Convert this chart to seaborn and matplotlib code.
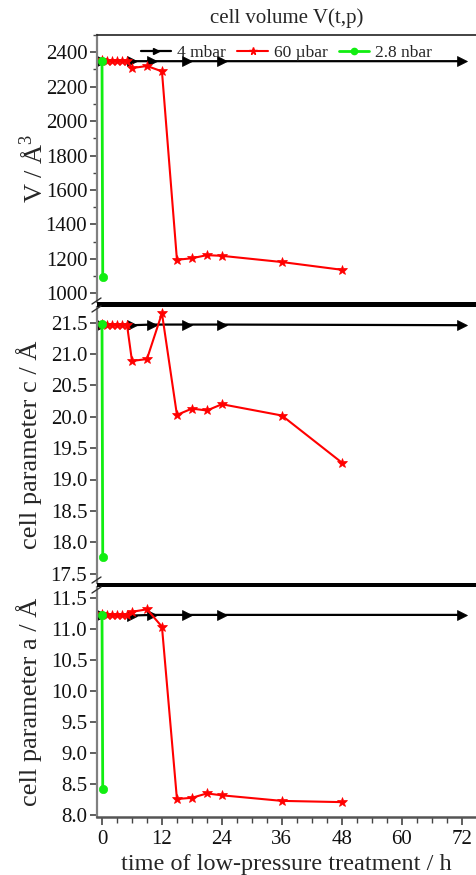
import numpy as np
import pandas as pd
import matplotlib
matplotlib.use("Agg")
import matplotlib.pyplot as plt
import seaborn as sns
from matplotlib.patches import Rectangle
from matplotlib.lines import Line2D
from matplotlib.ticker import MultipleLocator, FormatStrFormatter

# ---- data ----
t_4mbar = [0, 6, 10, 17, 24, 72]
V_4mbar = [2350, 2348, 2348, 2348, 2348, 2348]
c_4mbar = [21.47, 21.46, 21.47, 21.47, 21.47, 21.46]
a_4mbar = [11.23, 11.22, 11.23, 11.23, 11.23, 11.23]

t_60ubar = [0, 1, 2, 3, 4, 5, 6, 9, 12, 15, 18, 21, 24, 36, 48]
V_60ubar = [2352, 2350, 2349, 2350, 2348, 2347, 2308, 2320, 2289, 1195, 1204, 1222, 1218, 1182, 1137]
c_60ubar = [21.48, 21.47, 21.46, 21.47, 21.46, 21.47, 20.89, 20.92, 21.65, 20.03, 20.13, 20.10, 20.20, 20.02, 19.27]
a_60ubar = [11.24, 11.23, 11.23, 11.23, 11.23, 11.23, 11.28, 11.32, 11.04, 8.26, 8.28, 8.35, 8.32, 8.23, 8.21]

t_28nbar = [0, 0.15]
V_28nbar = [2350, 1098]
c_28nbar = [21.48, 17.77]
a_28nbar = [11.23, 8.42]

series_labels = ["4 mbar", "60 \u00b5bar", "2.8 nbar"]
x_ticks = [0, 12, 24, 36, 48, 60, 72]

# ---- style ----
sns.set_theme(style="ticks")
plt.rcParams["font.family"] = ["Liberation Serif", "DejaVu Serif"]
plt.rcParams["mathtext.fontset"] = "custom"
plt.rcParams["mathtext.rm"] = "Liberation Serif"

W, H = 476, 875
fig = plt.figure(figsize=(W / 100, H / 100), dpi=100)

def fx(px):
    return px / W

def fy(py):
    return 1 - py / H

left = 97
panels = [(35, 302), (307, 583), (587, 817)]
axes = []
for top, bot in panels:
    ax = fig.add_axes([fx(left), fy(bot), fx(W - left), (bot - top) / H])
    axes.append(ax)
ax1, ax2, ax3 = axes

colors = {"4 mbar": "black", "60 \u00b5bar": "#ff0000", "2.8 nbar": "#11ee11"}
styles = [
    dict(marker=">", ms=6.5, lw=1.6),
    dict(marker="*", ms=7, lw=1.5),
    dict(marker="o", ms=6, lw=2.0),
]

data_sets = [
    (ax1, [V_4mbar, V_60ubar, V_28nbar]),
    (ax2, [c_4mbar, c_60ubar, c_28nbar]),
    (ax3, [a_4mbar, a_60ubar, a_28nbar]),
]
times = [t_4mbar, t_60ubar, t_28nbar]

for ax, ys in data_sets:
    for lab, t, y, st in zip(series_labels, times, ys, styles):
        sns.lineplot(x=t, y=y, ax=ax, color=colors[lab], marker=st["marker"],
                     markersize=st["ms"], linewidth=st["lw"], markeredgewidth=0.5,
                     markeredgecolor=colors[lab], sort=False, estimator=None,
                     label=lab, legend=False)

tick_color = "#444444"
spine_color = "#808080"
for ax in axes:
    ax.set_xlim(-1, 74.86)
    for s in ["right", "top", "bottom"]:
        ax.spines[s].set_visible(False)
    ax.spines["left"].set_color(spine_color)
    ax.spines["left"].set_linewidth(1.6)
    ax.tick_params(axis="y", direction="out", length=5, width=1.2, color=tick_color,
                   labelsize=15, pad=2, labelcolor="#111111")
    ax.tick_params(axis="y", which="minor", direction="out", length=3, width=1.0, color=tick_color)
    ax.set_xticks([])

ylab_size = 19

# panel 1
ax1.set_ylim(950, 2500)
ax1.set_yticks(np.arange(1000, 2401, 200))
ax1.yaxis.set_minor_locator(MultipleLocator(100))
ax1.spines["top"].set_visible(True)
ax1.spines["top"].set_color("#222222")
ax1.spines["top"].set_linewidth(1.2)
ax1.set_ylabel("V / \u00c5$^3$", fontsize=ylab_size)
ax1.yaxis.set_label_coords(-0.13, 0.5)
ax1.set_title("cell volume V(t,p)", fontsize=15, pad=9)

# panel 2
ax2.set_ylim(17.35, 21.75)
ax2.set_yticks(np.arange(17.5, 21.51, 0.5))
ax2.yaxis.set_major_formatter(FormatStrFormatter("%.1f"))
ax2.set_ylabel("cell parameter c / \u00c5", fontsize=ylab_size)
ax2.yaxis.set_label_coords(-0.145, 0.5)

# panel 3
ax3.set_ylim(7.97, 11.68)
ax3.set_yticks(np.arange(8.0, 11.51, 0.5))
ax3.yaxis.set_major_formatter(FormatStrFormatter("%.1f"))
ax3.set_ylabel("cell parameter a / \u00c5", fontsize=ylab_size)
ax3.yaxis.set_label_coords(-0.145, 0.5)
ax3.spines["bottom"].set_visible(True)
ax3.spines["bottom"].set_color("#555555")
ax3.spines["bottom"].set_linewidth(1.8)
ax3.set_xticks(x_ticks)
ax3.xaxis.set_minor_locator(MultipleLocator(3))
ax3.tick_params(axis="x", direction="out", length=6, width=1.2, color=tick_color,
                labelsize=15, pad=3, labelcolor="#111111")
ax3.tick_params(axis="x", which="minor", direction="out", length=4, width=1.0, color=tick_color)
ax3.set_xlabel("time of low-pressure treatment / h", fontsize=17.5, labelpad=4)

# legend
handles = [Line2D([0], [0], color=colors[l], marker=s["marker"], markersize=s["ms"] - 1.5,
                  lw=s["lw"]) for l, s in zip(series_labels, styles)]
ax1.legend(handles, series_labels, loc="upper center", bbox_to_anchor=(0.5, 1.0),
           ncol=3, frameon=False, fontsize=12.5, handlelength=1.75, columnspacing=0.65,
           handletextpad=0.35, borderaxespad=0.15)

# thick break bars
for y0, y1 in [(302, 307), (583, 587)]:
    fig.add_artist(Rectangle((fx(left), fy(y1)), fx(W - left), (y1 - y0) / H,
                             transform=fig.transFigure, color="black", lw=0))

# break marks on left spine
for yc in [301, 309, 580, 590]:
    fig.add_artist(Line2D([fx(92), fx(101)], [fy(yc + 3), fy(yc - 3)],
                          transform=fig.transFigure, color="#333333", lw=1.0))

fig.savefig("out.png", dpi=100)
